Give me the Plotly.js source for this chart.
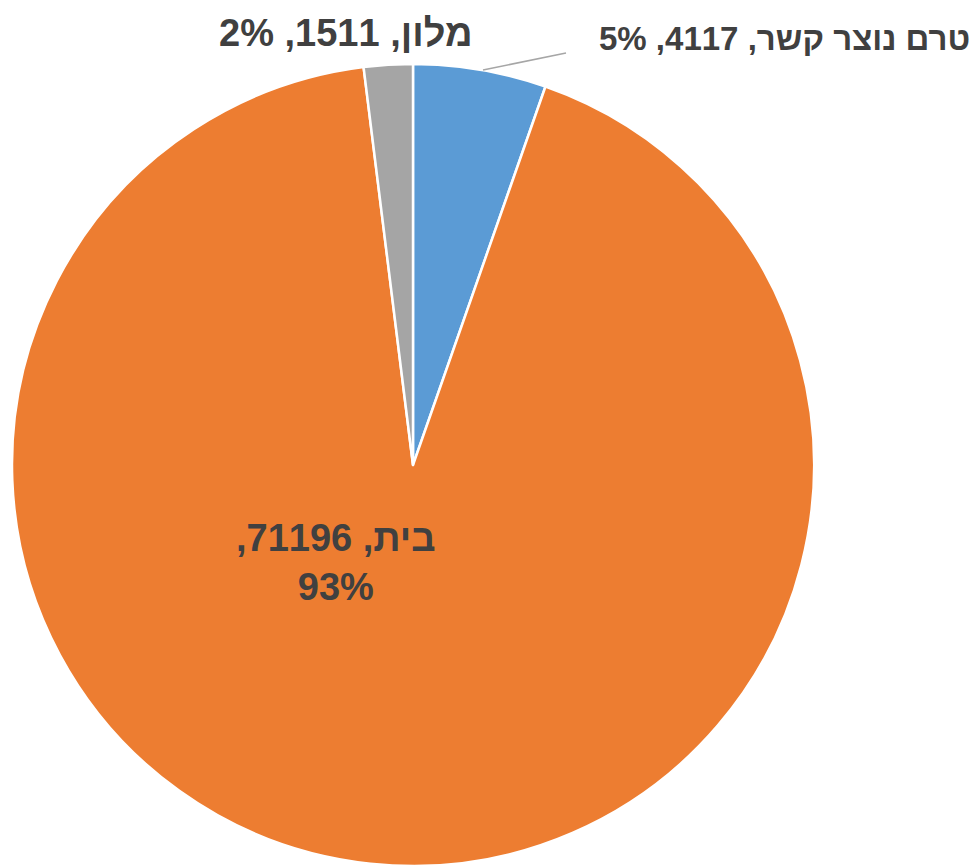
<!DOCTYPE html>
<html>
<head>
<meta charset="utf-8">
<script src="https://cdn.plot.ly/plotly-3.0.1.min.js"></script>
<style>html,body{margin:0;padding:0;background:#fff;}#chart{width:977px;height:866px;}</style>
</head>
<body>
<div id="chart"></div>
<script>
const labels = ['טרם נוצר קשר', 'בית', 'מלון'];
const values = [4117, 71196, 1511];
const colors = ['#5B9BD5', '#ED7D31', '#A5A5A5'];

const total = values.reduce((a, b) => a + b, 0);
const pct = values.map(v => Math.round(v / total * 100));
const RLE = '\u202B', PDF = '\u202C';
const txt = i => RLE + labels[i] + ', ' + values[i] + ', ' + pct[i] + '%' + PDF;

const W = 977, H = 866;
const font = {family: 'Liberation Sans, Arial, sans-serif', size: 38, color: '#404040', weight: 'bold'};

const trace = {
  type: 'pie',
  labels: labels,
  values: values,
  marker: {colors: colors, line: {color: '#ffffff', width: 2.5}},
  sort: false,
  direction: 'clockwise',
  rotation: 0,
  textinfo: 'none',
  hoverinfo: 'label+value+percent',
  showlegend: false,
  domain: {x: [12 / W, 814 / W], y: [0, 802 / H]}
};

const annotations = [
  {x: 972 / W, y: 1 - 39 / H, text: txt(0), xanchor: 'right', font: Object.assign({}, font, {size: 33})},
  {x: 346 / W, y: 1 - 33 / H, text: txt(2)},
  {x: 336 / W, y: 1 - 562 / H, text: RLE + labels[1] + ', ' + values[1] + ',' + PDF + '<br>' + pct[1] + '%'}
].map(a => Object.assign({xref: 'paper', yref: 'paper', xanchor: 'center', yanchor: 'middle', showarrow: false, font: font}, a));

const layout = {
  width: W, height: H,
  margin: {l: 0, r: 0, t: 0, b: 0},
  paper_bgcolor: '#ffffff',
  annotations: annotations,
  shapes: [{
    type: 'path', xref: 'paper', yref: 'paper',
    path: `M ${483 / W} ${1 - 70 / H} L ${566 / W} ${1 - 53 / H}`,
    line: {color: '#A6A6A6', width: 1.5}
  }]
};

Plotly.newPlot('chart', [trace], layout, {displayModeBar: false, staticPlot: true});
</script>
</body>
</html>
